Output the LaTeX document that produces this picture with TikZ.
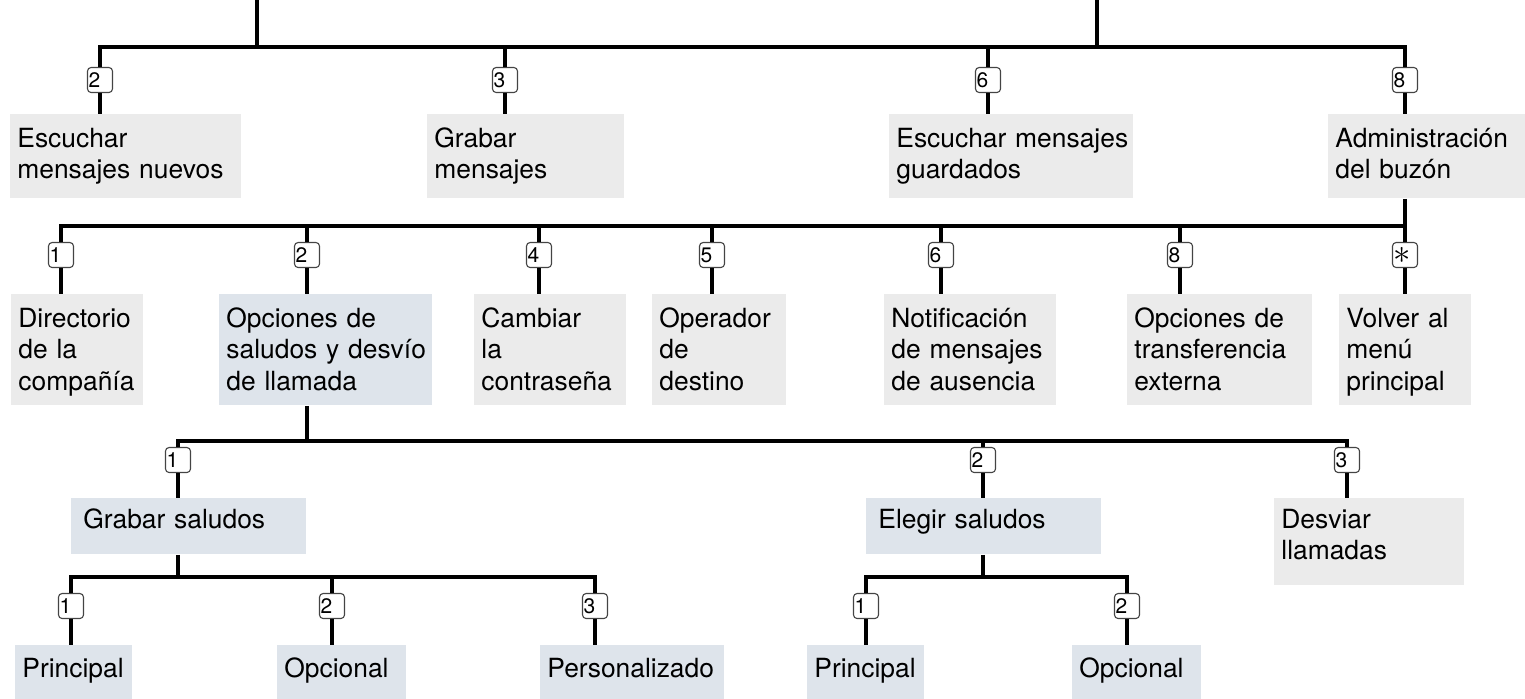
\documentclass[tikz,border=0pt]{standalone}
\usepackage{fontspec}
\setmainfont{TeX Gyre Heros}
\usepackage{tikz}
\definecolor{boxgray}{HTML}{EBEBEB}
\definecolor{boxblue}{HTML}{DEE4EB}
\definecolor{keyline}{HTML}{444444}

\begin{document}
\begin{tikzpicture}[x=0.5pt,y=-0.5pt,
  menu/.style={anchor=north west,fill=boxgray,align=left,inner xsep=3.5pt,inner ysep=0pt,
    font=\fontsize{13.2}{15.75}\selectfont},
  menu1/.style={menu,text height=16.5pt,text depth=25.5pt},
  menu2/.style={menu,text height=16.5pt,text depth=39pt},
  menu3/.style={menu,fill=boxblue,text height=15pt,text depth=13pt},
  menu4/.style={menu,fill=boxblue,text height=16pt,text depth=15pt},
  key/.style={draw=keyline,fill=white,rounded corners=1.8pt,line width=0.55pt,
    minimum width=12.5pt,minimum height=12.5pt,inner sep=0pt,
    text width=11.5pt,align=left,font=\fontsize{10.5}{10.5}\selectfont},
  wire/.style={line width=1.6pt}]
\useasboundingbox (0,0) rectangle (1525,698);

\coordinate (top1) at (257,0);
\coordinate (top2) at (1097,0);
\coordinate (bus1) at (0,47);
\coordinate (bus2) at (0,226);
\coordinate (bus3) at (0,441);
\coordinate (bus4) at (0,577);

% main menu
\node[menu1,text width=108.5pt] (esc) at (10,114) {Escuchar\\mensajes nuevos};
\node[menu1,text width=91.5pt] (gra) at (427,114) {Grabar\\mensajes};
\node[menu1,text width=115pt] (esg) at (889,114) {\mbox{Escuchar mensajes}\\guardados};
\node[menu1,text width=91.5pt] (adm) at (1328,114) {Administración\\del buzón};
\node[key] (k1a) at (100,80) {2};
\node[key] (k1b) at (505,80) {3};
\node[key] (k1c) at (988,80) {6};
\node[key] (k1d) at (1405,80) {8};

% mailbox
\node[menu2,text width=59pt] (dir) at (11,294) {Directorio\\de la\\compañía};
\node[menu2,fill=boxblue,text width=99.5pt] (ops) at (219,294) {Opciones de\\\mbox{saludos y desvío}\\de llamada};
\node[menu2,text width=69pt] (cam) at (474,294) {Cambiar\\la\\contraseña};
\node[menu2,text width=60pt] (ope) at (652,294) {Operador\\de\\destino};
\node[menu2,text width=79pt] (not) at (884,294) {Notificación\\de mensajes\\de ausencia};
\node[menu2,text width=85.5pt] (opt) at (1127,294) {Opciones de\\transferencia\\externa};
\node[menu2,text width=59pt] (vol) at (1339,294) {Volver al\\menú\\principal};
\node[key] (k2a) at (61,255) {1};
\node[key] (k2b) at (307,255) {2};
\node[key] (k2c) at (539,255) {4};
\node[key] (k2d) at (712,255) {5};
\node[key] (k2e) at (941,255) {6};
\node[key] (k2f) at (1180,255) {8};
\node[key] (k2g) at (1405,255) {\fontsize{16}{16}\selectfont$\ast$};

% greetings
\node[menu3,inner xsep=6pt,text width=105.5pt] (grs) at (71,498) {Grabar saludos};
\node[menu3,inner xsep=6pt,text width=105.5pt] (els) at (866,498) {Elegir saludos};
\node[menu3,fill=boxgray,text width=88pt,text depth=28.5pt] (des) at (1274,498) {Desviar\\llamadas};
\node[key] (k3a) at (178,460) {1};
\node[key] (k3b) at (983,460) {2};
\node[key] (k3c) at (1347,460) {3};

\node[menu4,text width=51.5pt] (pr1) at (15,645) {Principal};
\node[menu4,text width=57.5pt] (op1) at (277,645) {Opcional};
\node[menu4,text width=85pt] (per) at (540,645) {Personalizado};
\node[menu4,text width=51.5pt] (pr2) at (807,645) {Principal};
\node[menu4,text width=57.5pt] (op2) at (1072,645) {Opcional};
\node[key] (k4a) at (71,606) {1};
\node[key] (k4b) at (332,606) {2};
\node[key] (k4c) at (595,606) {3};
\node[key] (k4d) at (866,606) {1};
\node[key] (k4e) at (1127,606) {2};

\draw[wire] (top1) -- (top1 |- bus1);
\draw[wire] (top2) -- (top2 |- bus1);
\draw[wire] (k1a) -- (k1a |- bus1) -- (k1d |- bus1) -- (k1d);
\draw[wire] (k1b) -- (k1b |- bus1);
\draw[wire] (k1c) -- (k1c |- bus1);
\draw[wire] (k1a) -- (k1a |- esc.north);
\draw[wire] (k1b) -- (k1b |- gra.north);
\draw[wire] (k1c) -- (k1c |- esg.north);
\draw[wire] (k1d) -- (k1d |- adm.north);

\draw[wire] (adm.south -| k1d) -- (k1d |- bus2);
\draw[wire] (k2a) -- (k2a |- bus2) -- (k2g |- bus2) -- (k2g);
\draw[wire] (k2b) -- (k2b |- bus2);
\draw[wire] (k2c) -- (k2c |- bus2);
\draw[wire] (k2d) -- (k2d |- bus2);
\draw[wire] (k2e) -- (k2e |- bus2);
\draw[wire] (k2f) -- (k2f |- bus2);
\draw[wire] (k2a) -- (k2a |- dir.north);
\draw[wire] (k2b) -- (k2b |- ops.north);
\draw[wire] (k2c) -- (k2c |- cam.north);
\draw[wire] (k2d) -- (k2d |- ope.north);
\draw[wire] (k2e) -- (k2e |- not.north);
\draw[wire] (k2f) -- (k2f |- opt.north);
\draw[wire] (k2g) -- (k2g |- vol.north);

\draw[wire] (ops.south -| k2b) -- (k2b |- bus3);
\draw[wire] (k3a) -- (k3a |- bus3) -- (k3c |- bus3) -- (k3c);
\draw[wire] (k3b) -- (k3b |- bus3);
\draw[wire] (k3a) -- (k3a |- grs.north);
\draw[wire] (k3b) -- (k3b |- els.north);
\draw[wire] (k3c) -- (k3c |- des.north);

\draw[wire] (grs.south -| k3a) -- (k3a |- bus4);
\draw[wire] (k4a) -- (k4a |- bus4) -- (k4c |- bus4) -- (k4c);
\draw[wire] (k4b) -- (k4b |- bus4);
\draw[wire] (els.south -| k3b) -- (k3b |- bus4);
\draw[wire] (k4d) -- (k4d |- bus4) -- (k4e |- bus4) -- (k4e);
\draw[wire] (k4a) -- (k4a |- pr1.north);
\draw[wire] (k4b) -- (k4b |- op1.north);
\draw[wire] (k4c) -- (k4c |- per.north);
\draw[wire] (k4d) -- (k4d |- pr2.north);
\draw[wire] (k4e) -- (k4e |- op2.north);
\end{tikzpicture}
\end{document}
